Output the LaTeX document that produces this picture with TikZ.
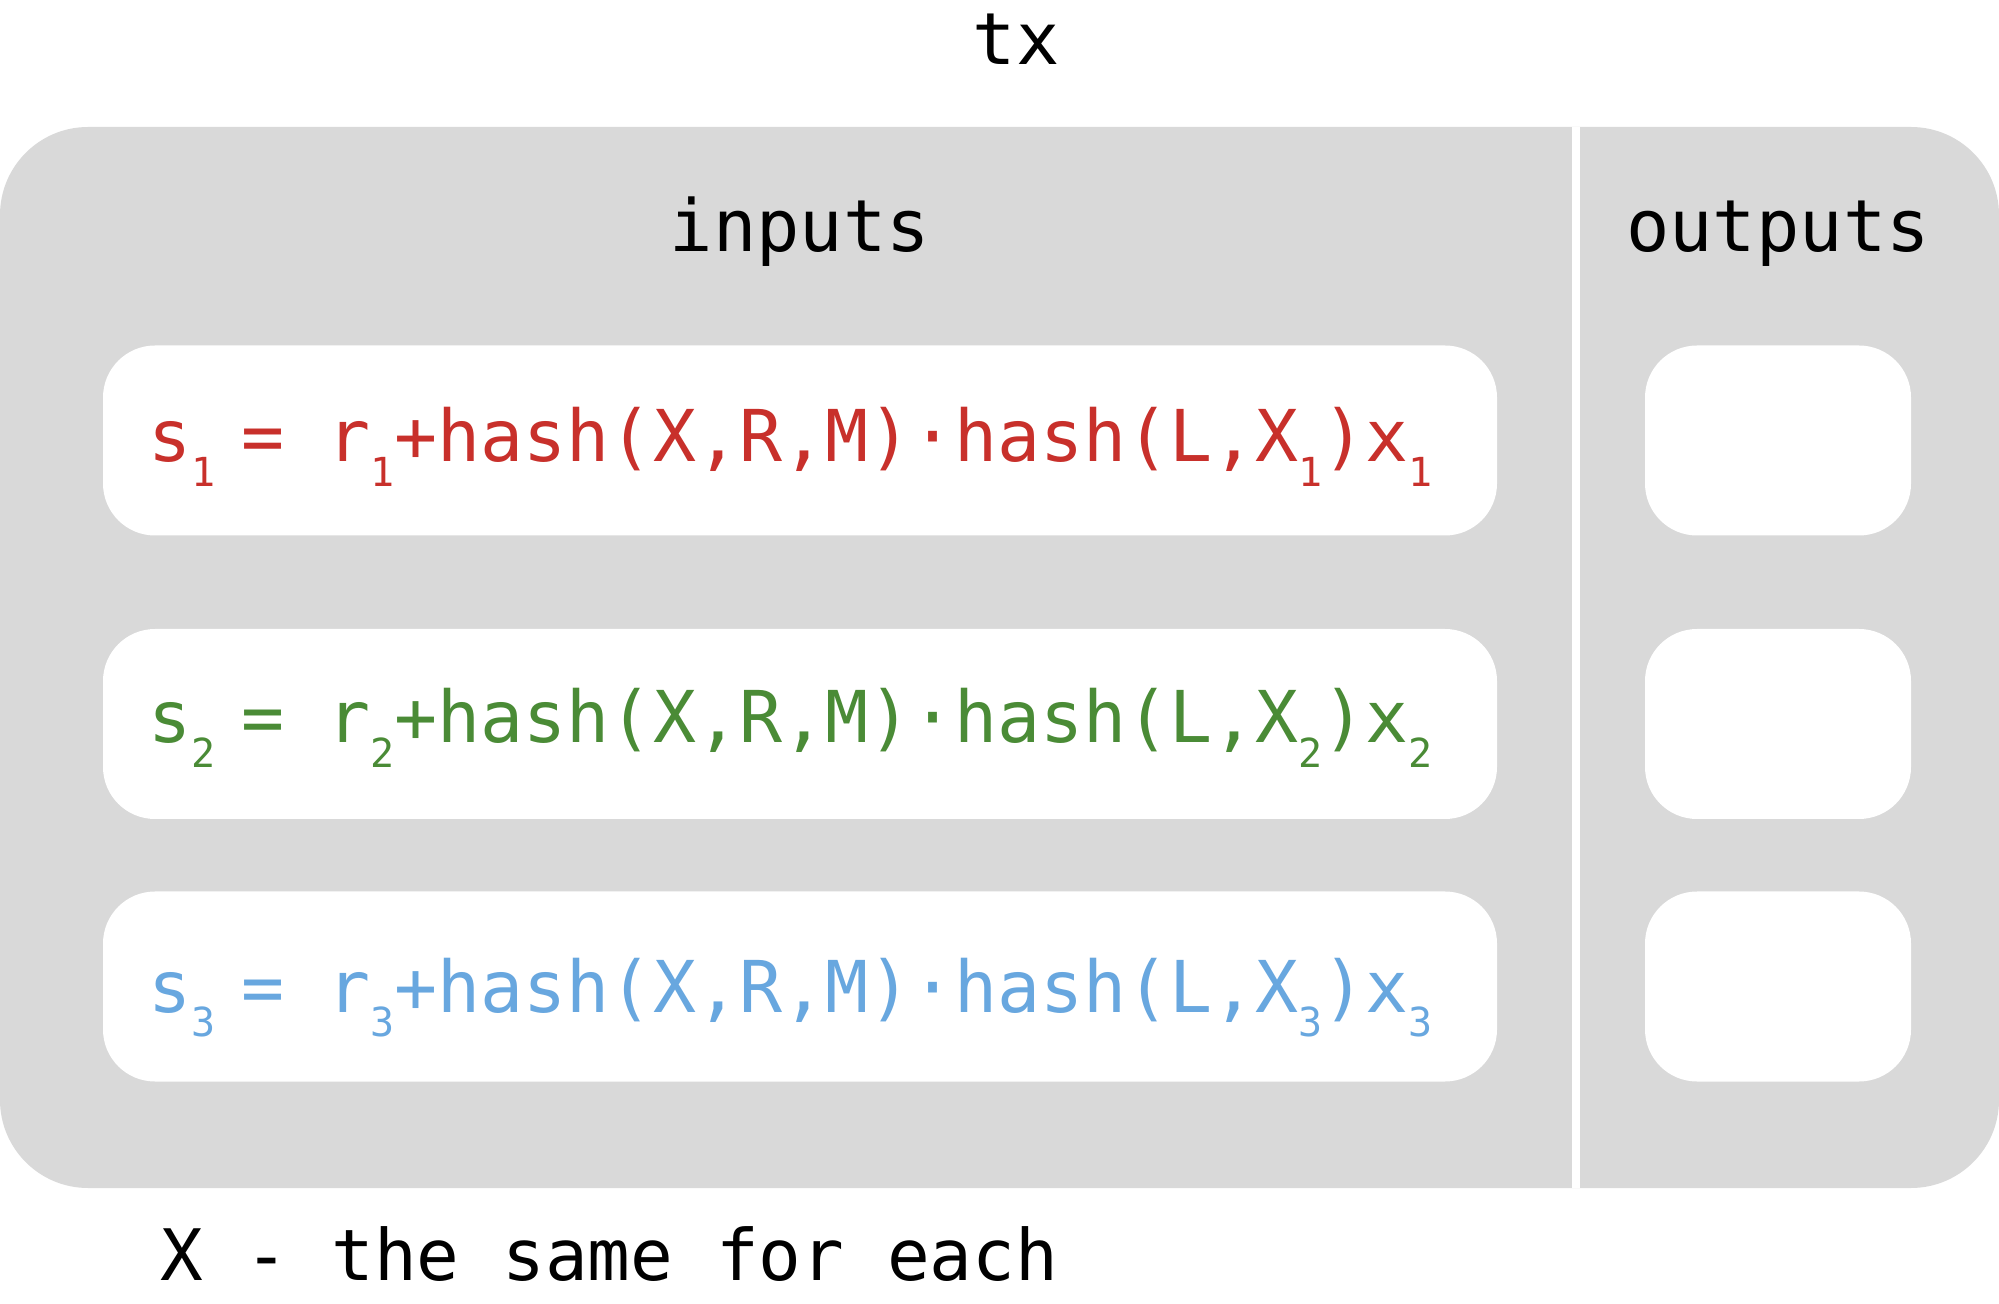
\documentclass[tikz,border=0pt]{standalone}
\usepackage{fontspec}
\newfontfamily\monofont{DejaVu Sans Mono}
\definecolor{panelgray}{HTML}{D9D9D9}
\definecolor{sigred}{HTML}{C8302B}
\definecolor{siggreen}{HTML}{4A8B36}
\definecolor{sigblue}{HTML}{68A7DF}
% subscript index set lower and smaller
\newcommand\idx[1]{\raisebox{-12.5pt}{\fontsize{20pt}{20pt}\selectfont #1}}
% partial signature of input #1
\newcommand\sigline[1]{s\idx{#1}\hspace{13pt}= r\idx{#1}+hash(X,R,M)·hash(L,X\idx{#1})x\idx{#1}}
\tikzset{
  label/.style={inner sep=0pt, anchor=base, font=\monofont\fontsize{36pt}{40pt}\selectfont},
  formula/.style={inner sep=0pt, anchor=base west, font=\monofont\fontsize{35.75pt}{40pt}\selectfont},
  inbox/.style={fill=white, draw=none, rounded corners=26pt, minimum width=697pt, minimum height=95pt, inner sep=0pt},
  outbox/.style={fill=white, draw=none, rounded corners=26pt, minimum width=133pt, minimum height=95pt, inner sep=0pt},
}
\begin{document}
\begin{tikzpicture}[x=0.5pt, y=-0.5pt]
  \useasboundingbox (0,0) rectangle (1999,1304);
  % transaction panel
  \fill[panelgray, rounded corners=44pt] (0,127) rectangle (1999,1188);
  % divider between inputs and outputs
  \fill[white] (1572,127) rectangle (1580,1188);

  \node[label] (tx) at (1016,65) {tx};
  \node[label] (inputs) at (800,252) {inputs};
  \node[label] (outputs) at (1778,252) {outputs};

  % input slots
  \node[inbox] (in1) at (800,440.5) {};
  \node[inbox] (in2) at (800,724) {};
  \node[inbox] (in3) at (800,986.5) {};
  % output slots
  \node[outbox] (out1) at (1778,440.5) {};
  \node[outbox] (out2) at (1778,724) {};
  \node[outbox] (out3) at (1778,986.5) {};

  \node[formula, text=sigred] (sig1) at (148,462) {\sigline{1}};
  \node[formula, text=siggreen] (sig2) at (148,743) {\sigline{2}};
  \node[formula, text=sigblue] (sig3) at (148,1012) {\sigline{3}};

  \node[label, anchor=base west, font=\monofont\fontsize{35.5pt}{40pt}\selectfont] (note) at (160,1280) {X - the same for each};
\end{tikzpicture}
\end{document}
